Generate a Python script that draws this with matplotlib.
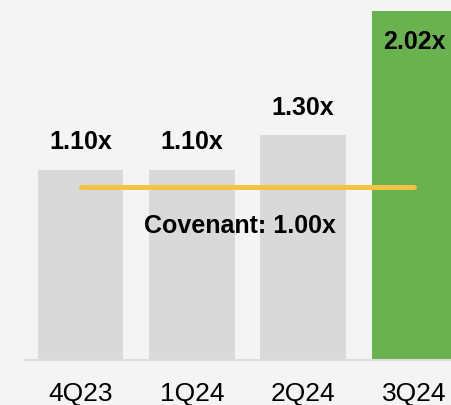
import matplotlib
matplotlib.use("Agg")
import matplotlib.pyplot as plt

quarters = ["4Q23", "1Q24", "2Q24", "3Q24"]
coverage = [1.10, 1.10, 1.30, 2.02]
highlight = [False, False, False, True]
covenant = 1.00

bg = "#f4f4f4"
grey = "#d9d9d9"
green = "#6ab150"
yellow = "#f5c243"

plt.rcParams["font.family"] = ["Liberation Sans", "DejaVu Sans"]

fig = plt.figure(figsize=(4.52, 4.06), dpi=100, facecolor=bg)
ax = fig.add_axes([25 / 452, 45 / 406, 427 / 452, 361 / 406])
ax.set_facecolor(bg)

x = range(len(quarters))
colors = [green if h else grey for h in highlight]
ax.bar(x, coverage, width=0.77, color=colors, zorder=2)

ax.set_xlim(-0.5, 3.338)
ax.set_ylim(0, 2.09)

# covenant line across the bars
ax.plot([0, len(quarters) - 1], [covenant, covenant], color=yellow, lw=3.6,
        solid_capstyle="round", zorder=3)
ax.annotate(f"Covenant: {covenant:.2f}x", xy=(1.43, covenant), xytext=(0, -27),
            textcoords="offset points", ha="center", va="center",
            fontsize=18, fontweight="bold", color="black", zorder=4)

# value labels: above the bar, or inside it when it runs off the top
ymax = ax.get_ylim()[1]
for i, v in enumerate(coverage):
    if v + 0.2 > ymax:
        ax.annotate(f"{v:.2f}x", xy=(i, v), xytext=(0, -13), textcoords="offset points",
                    ha="center", va="top", fontsize=18, fontweight="bold")
    else:
        ax.annotate(f"{v:.2f}x", xy=(i, v), xytext=(0, 12), textcoords="offset points",
                    ha="center", va="bottom", fontsize=18, fontweight="bold")

ax.set_xticks(list(x))
ax.set_xticklabels(quarters, fontsize=19)
ax.tick_params(axis="x", length=0, pad=15)
ax.set_yticks([])
for s in ["top", "right", "left"]:
    ax.spines[s].set_visible(False)
ax.spines["bottom"].set_color("#dddddd")
ax.spines["bottom"].set_linewidth(1.5)

fig.savefig("out.png", dpi=100, facecolor=bg)
